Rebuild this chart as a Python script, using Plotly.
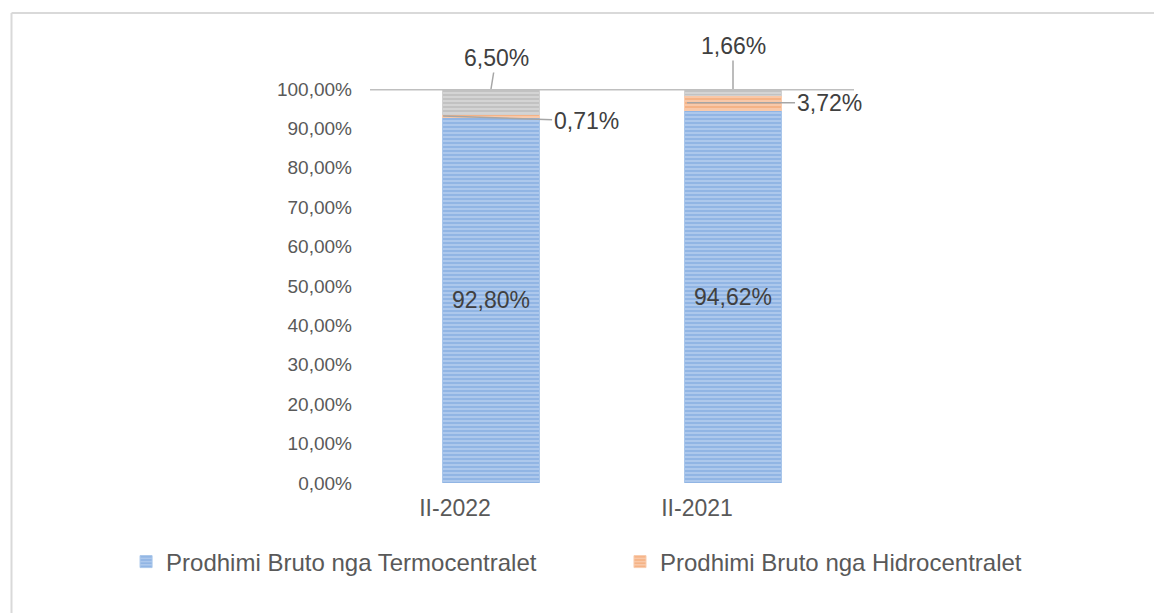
import plotly.graph_objects as go

categories = ["II-2022", "II-2021"]
termo = [0.9280, 0.9462]
hidro = [0.0071, 0.0372]
tjera = [0.0650, 0.0166]
tick_vals = [i / 10 for i in range(11)]
tick_text = ["0,00%", "10,00%", "20,00%", "30,00%", "40,00%", "50,00%",
             "60,00%", "70,00%", "80,00%", "90,00%", "100,00%"]


def pct(v):
    return f"{v * 100:.2f}%".replace(".", ",")


FONT = "Liberation Sans, Arial, sans-serif"
TXT = "#404040"

fig = go.Figure()
fig.add_trace(go.Bar(
    x=categories, y=termo, name="Prodhimi Bruto nga Termocentralet",
    width=0.4, legend="legend",
    marker=dict(color="#b3cdee", line=dict(color="#a9c6ea", width=1),
                pattern=dict(shape="-", fgcolor="#6f9ed9", size=4, solidity=0.6)),
    text=[pct(v) for v in termo], textposition="inside", insidetextanchor="middle",
    textfont=dict(size=23, color=TXT, family=FONT), hoverinfo="skip",
))
fig.add_trace(go.Bar(
    x=categories, y=hidro, name="Prodhimi Bruto nga Hidrocentralet",
    width=0.4, legend="legend2",
    marker=dict(color="#f9cdb0", line=dict(color="#f8cbad", width=1),
                pattern=dict(shape="-", fgcolor="#f29a5c", size=4, solidity=0.6)),
    hoverinfo="skip",
))
fig.add_trace(go.Bar(
    x=categories, y=tjera, name="Të tjera", showlegend=False,
    width=0.4,
    marker=dict(color="#d8d8d8", line=dict(color="#d0d0d0", width=1),
                pattern=dict(shape="-", fgcolor="#ababab", size=4, solidity=0.6)),
    hoverinfo="skip",
))

ann_style = dict(showarrow=True, arrowhead=0, arrowwidth=1.5, arrowcolor="#a6a6a6",
                 font=dict(size=23, color=TXT, family=FONT), xref="x", yref="y")
annotations = [
    dict(x=0, y=1.0, text=pct(tjera[0]), ax=5, ay=-31),
    dict(x=1, y=1.0, text=pct(tjera[1]), ax=0, ay=-43),
    dict(x=-0.198, y=termo[0] + hidro[0] / 2, text=pct(hidro[0]), ax=143, ay=5),
    dict(x=0.81, y=termo[1] + hidro[1] / 2, text=pct(hidro[1]), ax=142, ay=0),
]
for a in annotations:
    d = dict(ann_style)
    d.update(a)
    fig.add_annotation(**d)

# top line at 100%
fig.add_shape(type="line", xref="paper", yref="y", x0=0, x1=1, y0=1, y1=1,
              line=dict(color="#bfbfbf", width=3))
# outer chart border
bc = "#d9d9d9"
for x0, y0, x1, y1 in [(-0.7407, 1.1929, 1.64, 1.1929), (-0.7407, 1.1929, -0.7407, -0.35)]:
    fig.add_shape(type="line", xref="paper", yref="paper", x0=x0, y0=y0, x1=x1, y1=y1,
                  line=dict(color=bc, width=2))

leg_common = dict(orientation="h", yanchor="middle", y=-0.2005, xanchor="left",
                  font=dict(size=24, color="#595959", family=FONT),
                  bgcolor="rgba(0,0,0,0)", itemwidth=30)

fig.update_layout(
    width=1162, height=613,
    margin=dict(l=362, r=316, t=81, b=138),
    barmode="stack",
    paper_bgcolor="white", plot_bgcolor="white",
    font=dict(family=FONT, color="#595959"),
    showlegend=True,
    legend=dict(x=-0.504, **leg_common),
    legend2=dict(x=0.5165, **leg_common),
    xaxis=dict(type="category", range=[-0.5, 1.5], showgrid=False, showline=False,
               zeroline=False, ticks="", tickfont=dict(size=23, color="#595959", family=FONT),
               ticklabelshift=-36, ticklabelstandoff=9, tickangle=0, automargin=False),
    yaxis=dict(range=[0, 1], tickvals=tick_vals, ticktext=tick_text, showgrid=False,
               zeroline=False, showline=False, ticks="",
               tickfont=dict(size=19, color="#595959"), ticklabelstandoff=17),
)

fig.write_html("out.html")
